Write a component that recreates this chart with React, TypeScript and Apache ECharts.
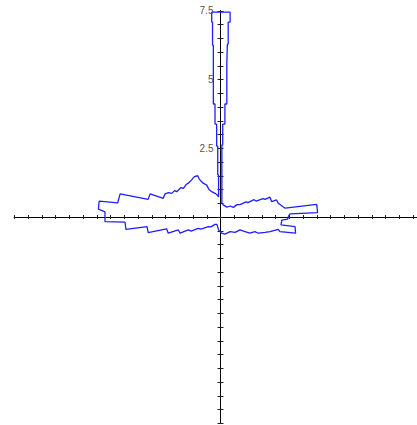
import React, { useEffect, useRef } from "react";
import * as echarts from "echarts";

// Curve outline (data units), traced counter-clockwise starting at the right arm
const curveX = [
  2.47, 2.53, 3.53, 3.5, 2.35, 2.1, 2.04, 1.86, 1.8, 1.62, 1.55, 1.29, 1.22, 1.0, 0.93, 0.71, 0.6, 0.47, 0.35, 0.23, 0.1, 0.05,
  0.05, 0.04, 0.04, 0.08, 0.08, 0.16, 0.16, 0.23, 0.23, 0.25, 0.25, 0.28, 0.28, 0.35, 0.35,
  -0.32, -0.32, -0.29, -0.29, -0.26, -0.26, -0.2, -0.2, -0.14, -0.14, -0.1, -0.1, -0.07, -0.07,
  -0.12, -0.2, -0.32, -0.42, -0.44, -0.5, -0.63, -0.71, -0.77, -0.83, -0.95, -1.05, -1.17, -1.25, -1.35, -1.44, -1.59, -1.67, -1.77, -1.89, -2.02, -2.08, -2.56, -2.63, -3.65, -3.74, -4.41, -4.44, -4.2,
  -4.2, -3.47, -3.44, -2.67, -2.63, -1.96, -1.9, -1.53, -1.47, -1.17, -1.07, -0.81, -0.71, -0.44, -0.35, -0.2, -0.13, -0.07, 0.04, 0.16, 0.35, 0.53, 0.71, 0.89, 1.07, 1.25, 1.37, 1.62, 1.8, 2.1, 2.16, 2.73, 2.71, 2.2, 2.23, 2.44,
];
const curveY = [
  0.02, 0.11, 0.16, 0.46, 0.32, 0.5, 0.62, 0.56, 0.72, 0.64, 0.67, 0.58, 0.63, 0.52, 0.55, 0.45, 0.45, 0.35, 0.4, 0.36, 0.44, 0.51,
  2.62, 2.62, 2.62, 2.62, 3.38, 3.38, 4.11, 4.11, 5.56, 5.56, 6.29, 6.29, 7.09, 7.09, 7.45,
  7.45, 7.09, 7.09, 6.25, 6.25, 4.11, 4.11, 3.38, 3.38, 2.58, 2.58, 1.53, 1.53, 0.73,
  0.8, 0.86, 0.92, 1.0, 1.04, 1.16, 1.23, 1.31, 1.38, 1.5, 1.47, 1.35, 1.23, 1.18, 1.04, 1.07, 0.92, 0.96, 0.86, 0.89, 0.84, 0.68, 0.84, 0.64, 0.84, 0.51, 0.58, 0.29, 0.19,
  -0.17, -0.19, -0.45, -0.35, -0.57, -0.43, -0.59, -0.47, -0.59, -0.47, -0.51, -0.41, -0.44, -0.35, -0.36, -0.27, -0.27, -0.47, -0.59, -0.62, -0.53, -0.56, -0.47, -0.53, -0.59, -0.53, -0.59, -0.56, -0.53, -0.45, -0.53, -0.59, -0.35, -0.29, -0.11, -0.08,
];
const yTickLabels = [2.5, 5, 7.5];

export default function App() {
  const ref = useRef<HTMLDivElement>(null);
  useEffect(() => {
    if (!ref.current) return;
    const chart = echarts.init(ref.current, undefined, { renderer: "svg" });
    const data = curveX.map((x, i) => [x, curveY[i]]);
    data.push([curveX[0], curveY[0]]);
    const baseAxis = {
      type: "value" as const,
      min: -7.5,
      max: 7.5,
      interval: 0.5,
      axisLine: { show: true, onZero: true, onZeroAxisIndex: 0, lineStyle: { color: "#000", width: 1 } },
      splitLine: { show: false },
      axisLabel: { show: false },
    };
    chart.setOption({
      animation: false,
      grid: { left: 14.25, top: 10.75, width: 412.5, height: 412.5, containLabel: false, outerBoundsMode: "none" },
      xAxis: [
        { ...baseAxis, position: "bottom", axisTick: { show: true, length: 2, lineStyle: { color: "#222" } } },
        { ...baseAxis, position: "top", axisTick: { show: true, length: 2, lineStyle: { color: "#222" } } },
      ],
      yAxis: [
        { ...baseAxis, position: "left", axisTick: { show: true, length: 3, lineStyle: { color: "#222" } } },
        { ...baseAxis, position: "right", axisTick: { show: true, length: 3, lineStyle: { color: "#222" } } },
      ],
      series: [
        {
          type: "line",
          xAxisIndex: 0,
          yAxisIndex: 0,
          data,
          showSymbol: false,
          symbol: "none",
          clip: false,
          lineStyle: { color: "#1f1fff", width: 1.3 },
        },
        {
          type: "scatter",
          xAxisIndex: 0,
          yAxisIndex: 0,
          data: yTickLabels.map((v) => [0, v]),
          symbolSize: 0,
          silent: true,
          label: {
            show: true,
            position: "left",
            distance: 7,
            color: "#222",
            fontSize: 10,
            fontFamily: "Liberation Sans, Arial, sans-serif",
            formatter: (p: any) => String(p.value[1]),
          },
        },
      ],
    });
    return () => chart.dispose();
  }, []);
  return <div ref={ref} style={{ position: "absolute", left: 0, top: 0, width: 417, height: 425 }} />;
}
